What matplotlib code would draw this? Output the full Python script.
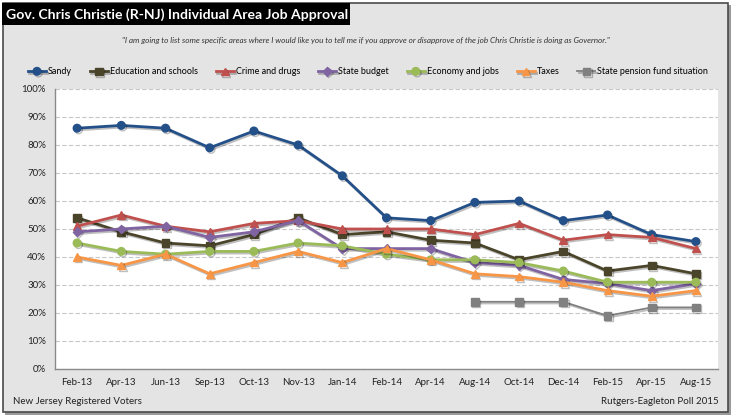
import matplotlib.pyplot as plt
import matplotlib.patheffects as pe
import numpy as np
from matplotlib.patches import Rectangle

months = ["Feb-13", "Apr-13", "Jun-13", "Sep-13", "Oct-13", "Nov-13", "Jan-14", "Feb-14",
          "Apr-14", "Aug-14", "Oct-14", "Dec-14", "Feb-15", "Apr-15", "Aug-15"]

sandy = [86, 87, 86, 79, 85, 80, 69, 54, 53, 59.5, 60, 53, 55, 48, 45.5]
education = [54, 49, 45, 44, 48, 54, 48, 49, 46, 45, 39, 42, 35, 37, 34]
crime = [51, 55, 51, 49, 52, 53, 50, 50, 50, 48, 52, 46, 48, 47, 43]
budget = [49, 50, 51, 47, 49, 53, 43, 43, 43, 38, 37, 32, 30.5, 28, 30.5]
economy = [45, 42, 41, 42, 42, 45, 44, 41, 39, 39, 38, 35, 31, 31, 31]
taxes = [40, 37, 41, 34, 38, 42, 38, 43, 39, 34, 33, 31, 28, 26, 28]
pension = [np.nan] * 9 + [24, 24, 24, 19, 22, 22]

series = [
    ("Sandy", sandy, "#24508a", "o", 2.0),
    ("Education and schools", education, "#4a452a", "s", 2.0),
    ("Crime and drugs", crime, "#c0504d", "^", 2.0),
    ("State budget", budget, "#8064a2", "D", 2.0),
    ("Economy and jobs", economy, "#9bbb59", "o", 2.0),
    ("Taxes", taxes, "#f79646", "^", 2.0),
    ("State pension fund situation", pension, "#808080", "s", 1.3),
]

W, H = 736, 418
fig = plt.figure(figsize=(W / 100, H / 100), dpi=100)
fig.patch.set_facecolor("white")

# gray panel with shadow
fig.patches.append(Rectangle((5 / W, 1 - 415 / H), 726 / W, 410 / H, transform=fig.transFigure,
                             facecolor="#9a9a9a", edgecolor="none", zorder=-2))
fig.patches.append(Rectangle((3 / W, 1 - 412 / H), 725 / W, 409 / H, transform=fig.transFigure,
                             facecolor="#e4e4e4", edgecolor="#4a4a4a", lw=1.2, zorder=-1))
# title box
fig.patches.append(Rectangle((2 / W, 1 - 25 / H), 348 / W, 22 / H, transform=fig.transFigure,
                             facecolor="black", edgecolor="none", zorder=1))
fig.text(6 / W, 1 - 14.5 / H, "Gov. Chris Christie (R-NJ) Individual Area Job Approval",
         color="white", fontsize=10.1, family="Lato", fontweight="bold",
         va="center", ha="left", zorder=2)
fig.text(366 / W, 1 - 40 / H,
         "\"I am going to list some specific areas where I would like you to tell me if you approve "
         "or disapprove of the job Chris Christie is doing as Governor.\"",
         fontsize=5.85, style="italic", family="Lato", color="#333333",
         ha="center", va="center")

ax = fig.add_axes([55 / W, 1 - 369 / H, 663 / W, 280 / H])
ax.set_zorder(2)
ax.set_facecolor("white")
x = np.arange(len(months))
for name, vals, color, marker, lw in series:
    ax.plot(x, vals, color=color, marker=marker, lw=lw, ms=5.5 if marker != "D" else 4.5,
            label=name, zorder=3,
            path_effects=[pe.SimpleLineShadow(offset=(1, -1.2), alpha=0.25), pe.Normal()])

ax.set_xlim(-0.5, len(months) - 0.5)
ax.set_ylim(0, 100)
ax.set_yticks(np.arange(0, 101, 10))
ax.set_yticklabels([f"{v}%" for v in range(0, 101, 10)])
ax.set_xticks(x)
ax.set_xticklabels(months)
ax.tick_params(length=0, labelsize=7, colors="#222222")
ax.tick_params(axis="y", pad=6.5)
ax.tick_params(axis="x", pad=6.5)
ax.grid(axis="y", color="#c8c8c8", ls=(0, (4, 2)), lw=0.8)
ax.set_axisbelow(True)
for s in ["top", "right"]:
    ax.spines[s].set_visible(False)
for s in ["left", "bottom"]:
    ax.spines[s].set_color("#8a8a8a")
    ax.spines[s].set_linewidth(1)
for lab in ax.get_xticklabels() + ax.get_yticklabels():
    lab.set_family("Lato")

leg = fig.legend(*ax.get_legend_handles_labels(), loc="center", bbox_to_anchor=(368 / W, 1 - 72 / H),
                 ncol=7, frameon=False, handlelength=2.0, handletextpad=0.2,
                 columnspacing=2.0, prop={"family": "Lato", "size": 6.5})

fig.text(13 / W, 1 - 401 / H, "New Jersey Registered Voters", fontsize=7, family="Lato",
         ha="left", va="center", color="#222222")
fig.text(719 / W, 1 - 401 / H, "Rutgers-Eagleton Poll 2015", fontsize=7, family="Lato",
         ha="right", va="center", color="#222222")

fig.savefig("out.png", dpi=100)
